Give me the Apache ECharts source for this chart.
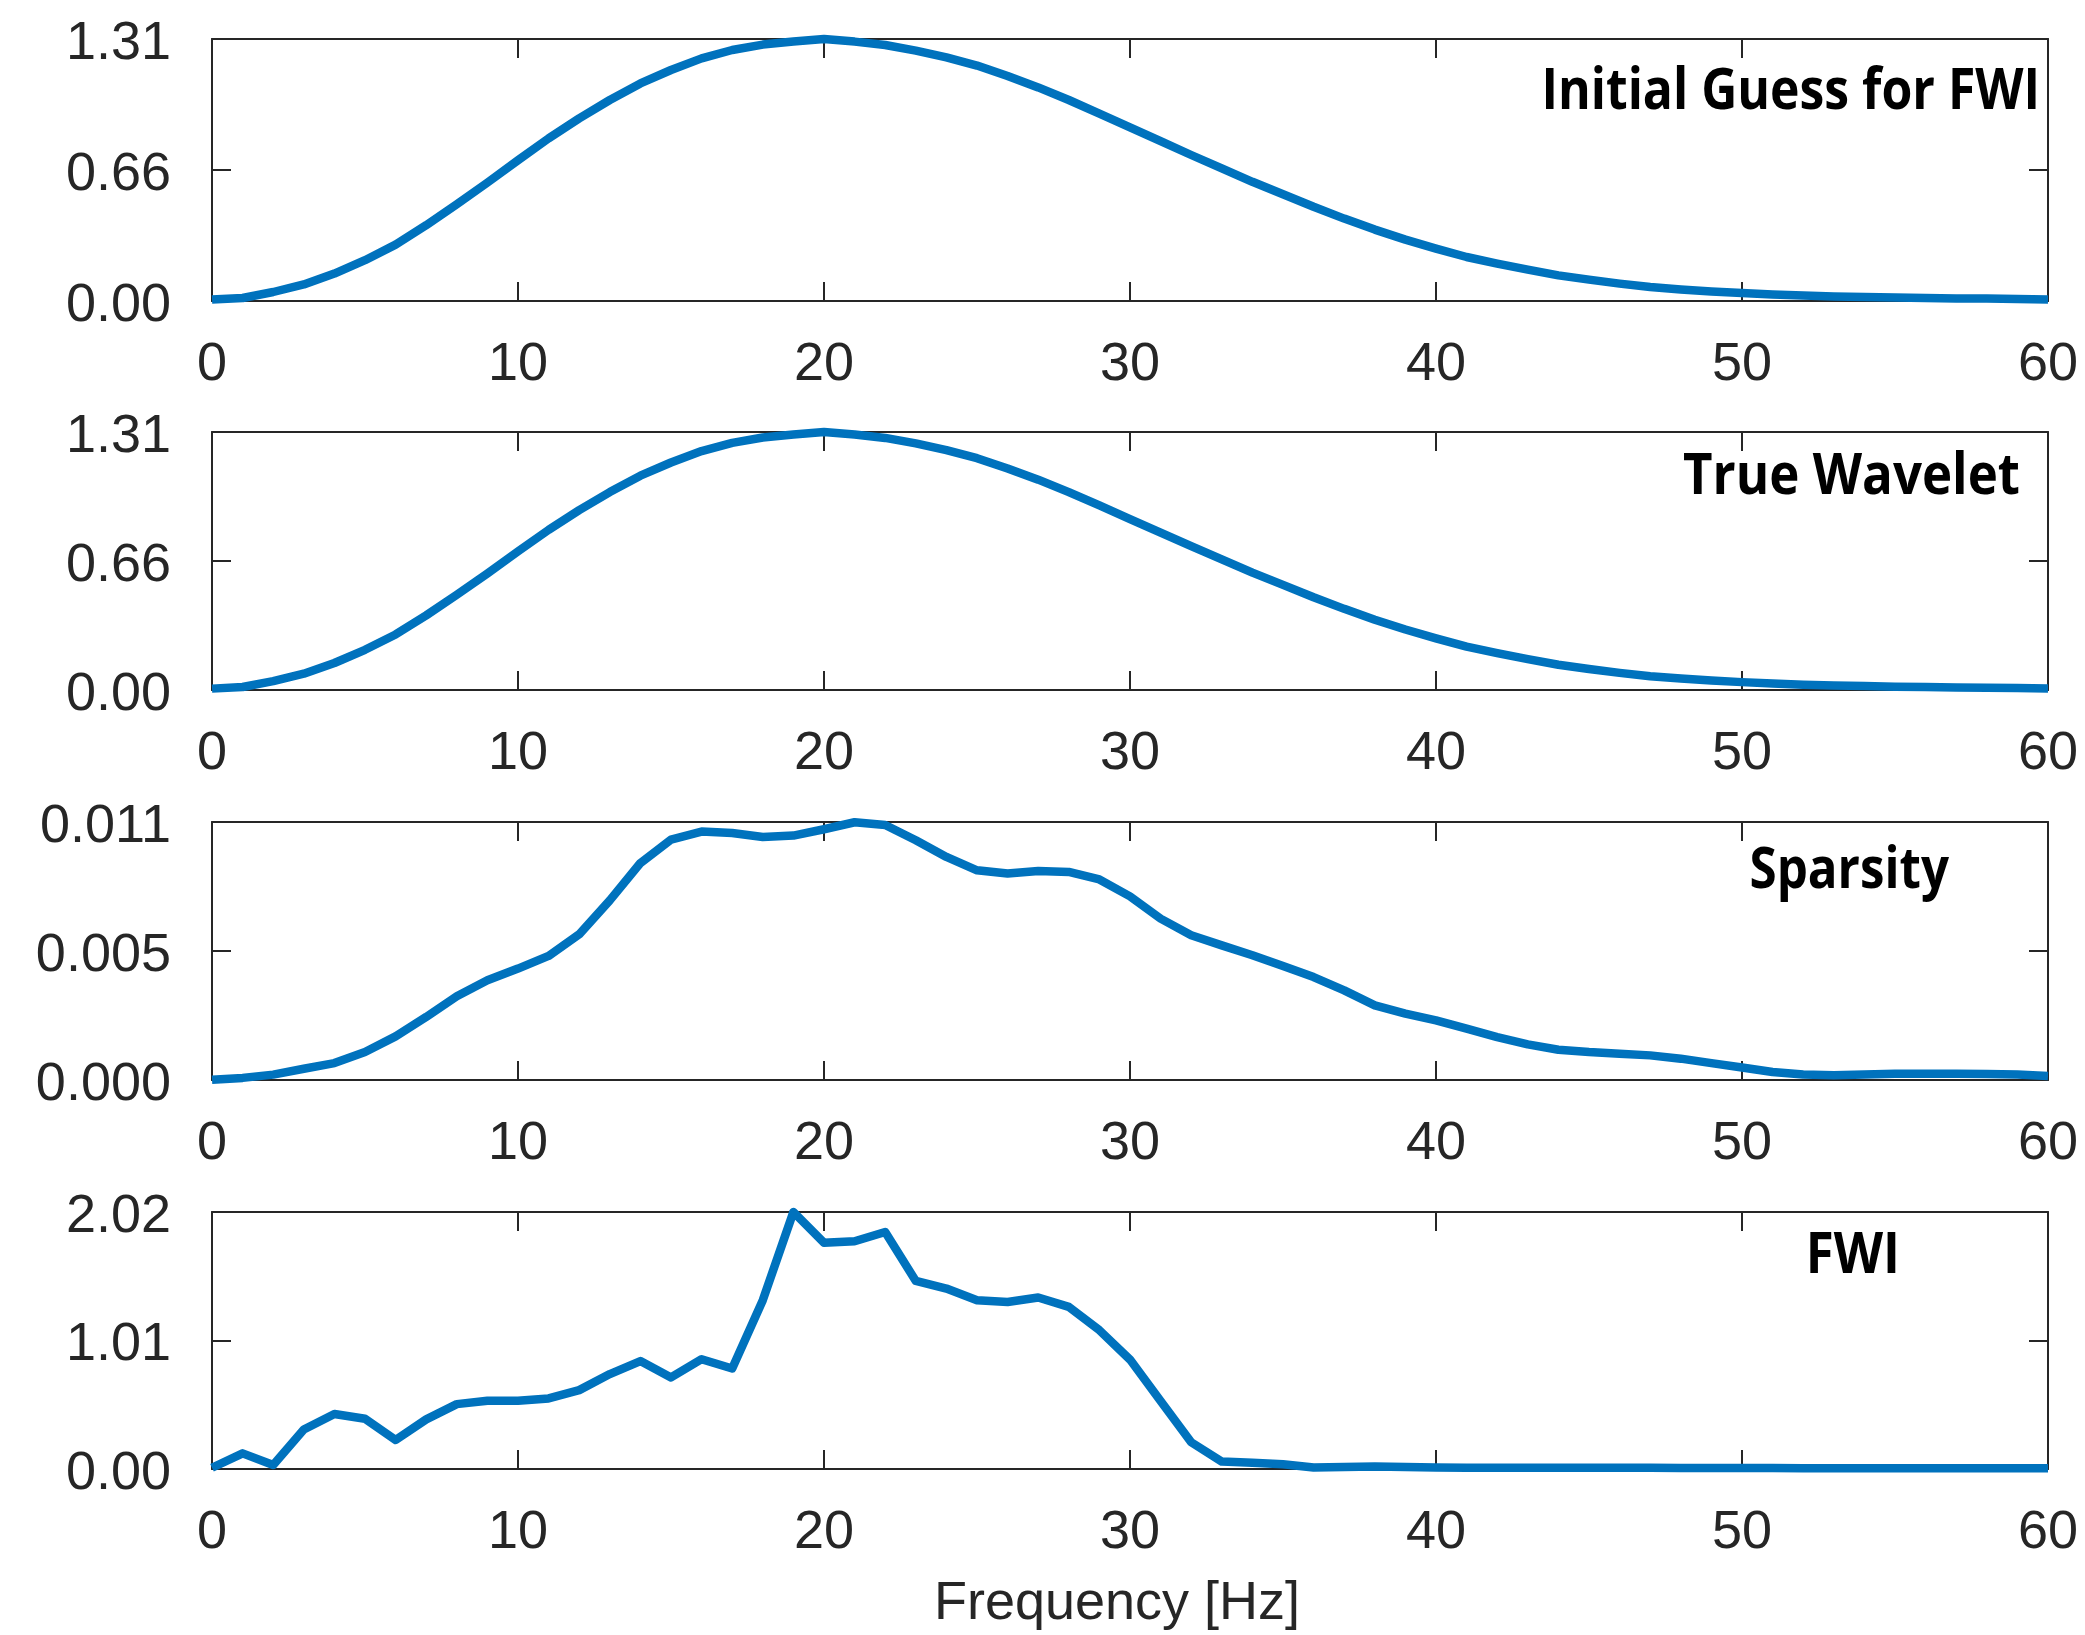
<!DOCTYPE html>
<html>
<head>
<meta charset="utf-8">
<title>Wavelet amplitude spectra</title>
<script src="https://cdn.jsdelivr.net/npm/echarts@6/dist/echarts.min.js"></script>
<style>
  html, body { margin: 0; padding: 0; background: #ffffff; }
  #chart { width: 2085px; height: 1635px; }
</style>
</head>
<body>
<div id="chart"></div>
<script>
// Frequency samples (Hz)
const freqHz = [0, 1, 2, 3, 4, 5, 6, 7, 8, 9, 10, 11, 12, 13, 14, 15, 16, 17, 18, 19, 20,
  21, 22, 23, 24, 25, 26, 27, 28, 29, 30, 31, 32, 33, 34, 35, 36, 37, 38, 39, 40,
  41, 42, 43, 44, 45, 46, 47, 48, 49, 50, 51, 52, 53, 54, 55, 56, 57, 58, 59, 60];

// Amplitude spectrum of the starting wavelet
const initialGuess = [0.007, 0.015, 0.045, 0.083, 0.137, 0.204, 0.282, 0.379, 0.484, 0.592,
  0.704, 0.813, 0.913, 1.005, 1.088, 1.155, 1.213, 1.255, 1.282, 1.297,
  1.31, 1.297, 1.28, 1.252, 1.218, 1.177, 1.125, 1.068, 1.005, 0.937,
  0.868, 0.799, 0.73, 0.663, 0.596, 0.534, 0.471, 0.412, 0.357, 0.307,
  0.262, 0.22, 0.187, 0.157, 0.128, 0.107, 0.087, 0.07, 0.058, 0.048,
  0.04, 0.033, 0.027, 0.023, 0.02, 0.017, 0.015, 0.013, 0.012, 0.01, 0.008];

// Amplitude spectrum of the true source wavelet
const trueWavelet = [0.007, 0.015, 0.045, 0.083, 0.137, 0.204, 0.282, 0.379, 0.484, 0.592,
  0.704, 0.813, 0.913, 1.005, 1.088, 1.155, 1.213, 1.255, 1.282, 1.297,
  1.31, 1.297, 1.28, 1.252, 1.218, 1.177, 1.125, 1.068, 1.005, 0.937,
  0.868, 0.799, 0.73, 0.663, 0.596, 0.534, 0.471, 0.412, 0.357, 0.307,
  0.262, 0.22, 0.187, 0.157, 0.128, 0.107, 0.087, 0.07, 0.058, 0.048,
  0.04, 0.033, 0.027, 0.023, 0.02, 0.017, 0.015, 0.013, 0.012, 0.01, 0.008];

// Wavelet recovered with the sparsity constraint
const sparsity = [0.00001, 0.00009, 0.00023, 0.00048, 0.00072, 0.00119, 0.00186, 0.00269, 0.00357, 0.00425,
  0.00475, 0.00529, 0.00621, 0.00766, 0.00925, 0.01025, 0.01059, 0.01053, 0.01036, 0.01042,
  0.01069, 0.01099, 0.01087, 0.01022, 0.00951, 0.00894, 0.0088, 0.00891, 0.00887, 0.00855,
  0.00783, 0.00688, 0.00617, 0.00574, 0.00532, 0.00486, 0.00439, 0.00382, 0.00318, 0.00283,
  0.00254, 0.00219, 0.00183, 0.00152, 0.00129, 0.00119, 0.00112, 0.00105, 0.00091, 0.00072,
  0.00053, 0.00034, 0.00023, 0.0002, 0.00023, 0.00027, 0.00027, 0.00027, 0.00026, 0.00023, 0.00017];

// Wavelet recovered by plain FWI
const fwi = [0.01, 0.123, 0.031, 0.311, 0.432, 0.395, 0.228, 0.39, 0.51, 0.536,
  0.536, 0.555, 0.62, 0.746, 0.848, 0.72, 0.863, 0.79, 1.327, 2.02,
  1.779, 1.79, 1.863, 1.478, 1.418, 1.327, 1.313, 1.348, 1.274, 1.091,
  0.86, 0.535, 0.21, 0.058, 0.05, 0.037, 0.012, 0.016, 0.02, 0.015,
  0.012, 0.01, 0.01, 0.01, 0.01, 0.01, 0.009, 0.009, 0.008, 0.008,
  0.007, 0.007, 0.006, 0.006, 0.006, 0.006, 0.005, 0.005, 0.005, 0.005, 0.005];

const panelTitles = ['Initial Guess for FWI', 'True Wavelet', 'Sparsity', 'FWI'];
const panelSeries = [initialGuess, trueWavelet, sparsity, fwi];
const yMaxValues = [1.31, 1.31, 0.011, 2.02];
const yTickLabels = [
  ['0.00', '0.66', '1.31'],
  ['0.00', '0.66', '1.31'],
  ['0.000', '0.005', '0.011'],
  ['0.00', '1.01', '2.02']
];
const xTickLabels = ['0', '10', '20', '30', '40', '50', '60'];
const xAxisName = 'Frequency [Hz]';

// ---- layout & style ----
const INK = '#262626';
const LINE_BLUE = '#0072BD';
const TICK_FONT = '"Liberation Sans", Arial, Helvetica, sans-serif';
const TITLE_FONT = '"Open Sans", "Noto Sans", sans-serif';
const gridBoxes = [
  { top: 39, height: 262 },
  { top: 432, height: 258 },
  { top: 822, height: 258 },
  { top: 1212, height: 257 }
];
// right edge, vertical middle and horizontal squeeze of each panel title
const titleBoxes = [
  { right: 2040, mid: 92, squeeze: 0.86 },
  { right: 2020, mid: 477, squeeze: 0.88 },
  { right: 1949, mid: 871, squeeze: 0.85 },
  { right: 1900, mid: 1256, squeeze: 0.88 }
];

const axisLineStyle = { show: true, onZero: false, lineStyle: { color: INK, width: 2 } };
const tickStyle = { show: true, inside: true, length: 19, lineStyle: { color: INK, width: 2 } };

const grid = [], xAxis = [], yAxis = [], series = [], graphic = [];

panelSeries.forEach((values, i) => {
  grid.push({ left: 212, right: 37, top: gridBoxes[i].top, height: gridBoxes[i].height, containLabel: false });

  const isLast = i === panelSeries.length - 1;
  // bottom x axis with labels
  xAxis.push({
    gridIndex: i, type: 'value', position: 'bottom', min: 0, max: 60, interval: 10,
    axisLine: axisLineStyle, axisTick: tickStyle, splitLine: { show: false },
    axisLabel: {
      margin: 37, fontSize: 54, fontFamily: TICK_FONT, color: INK,
      formatter: (v) => xTickLabels[Math.round(v / 10)]
    },
    name: isLast ? xAxisName : '',
    nameLocation: 'middle', nameGap: 108,
    nameTextStyle: { fontSize: 54, fontFamily: TICK_FONT, color: INK, padding: [0, 26, 0, 0] }
  });
  // top x axis (box edge with mirrored ticks)
  xAxis.push({
    gridIndex: i, type: 'value', position: 'top', min: 0, max: 60, interval: 10,
    axisLine: axisLineStyle, axisTick: tickStyle, splitLine: { show: false },
    axisLabel: { show: false }
  });

  const yMax = yMaxValues[i];
  const labels = yTickLabels[i];
  yAxis.push({
    gridIndex: i, type: 'value', position: 'left', min: 0, max: yMax, interval: yMax / 2,
    axisLine: axisLineStyle, axisTick: tickStyle, splitLine: { show: false },
    axisLabel: {
      margin: 41, fontSize: 54, fontFamily: TICK_FONT, color: INK,
      // text sits a few pixels below its tick
      verticalAlign: 'top', lineHeight: 10,
      formatter: (v) => labels[Math.round(v / (yMax / 2))]
    }
  });
  yAxis.push({
    gridIndex: i, type: 'value', position: 'right', min: 0, max: yMax, interval: yMax / 2,
    axisLine: axisLineStyle, axisTick: tickStyle, splitLine: { show: false },
    axisLabel: { show: false }
  });

  series.push({
    type: 'line',
    xAxisIndex: 2 * i,
    yAxisIndex: 2 * i,
    data: freqHz.map((f, k) => [f, values[k]]),
    showSymbol: false,
    clip: false,
    silent: true,
    lineStyle: { color: LINE_BLUE, width: 8.5, join: 'round', cap: 'butt' },
    z: 5
  });

  graphic.push({
    type: 'text',
    x: titleBoxes[i].right,
    y: titleBoxes[i].mid,
    scaleX: titleBoxes[i].squeeze,
    z: 10,
    style: {
      text: panelTitles[i],
      fill: '#000000',
      font: 'bold 58px ' + TITLE_FONT,
      align: 'right', verticalAlign: 'middle',
      textAlign: 'right', textVerticalAlign: 'middle'
    }
  });
});

const chart = echarts.init(document.getElementById('chart'), null, { renderer: 'canvas' });
chart.setOption({
  backgroundColor: '#ffffff',
  animation: false,
  grid, xAxis, yAxis, series, graphic
});
</script>
</body>
</html>
